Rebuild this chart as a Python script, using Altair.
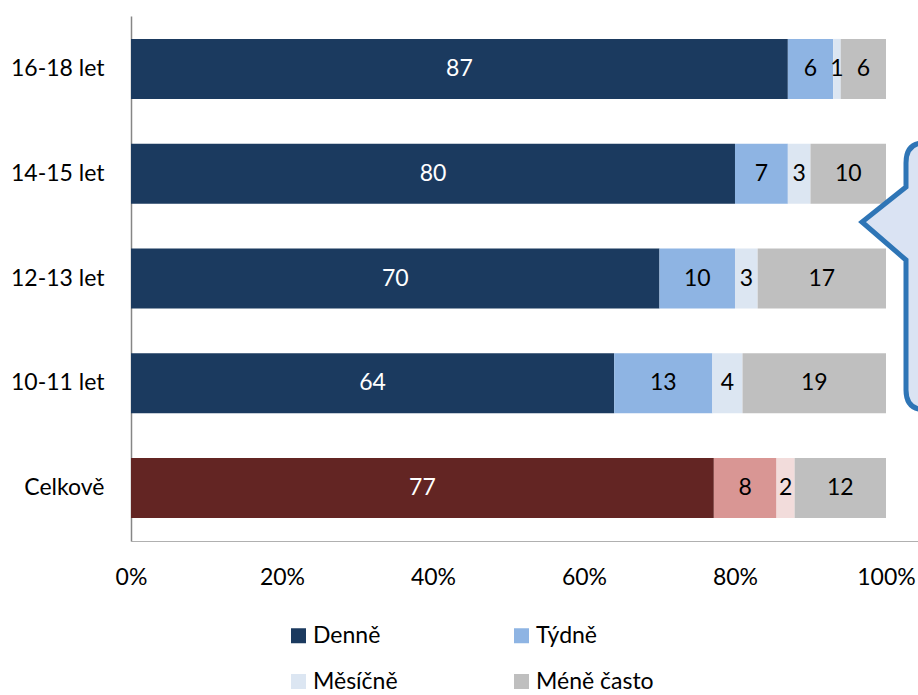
import altair as alt
import pandas as pd

kategorie = ["16-18 let", "14-15 let", "12-13 let", "10-11 let", "Celkově"]
serie = ["Denně", "Týdně", "Měsíčně", "Méně často"]
denne = [87, 80, 70, 64, 77.2]
tydne = [6, 7, 10, 13, 8.3]
mesicne = [1, 3, 3, 4, 2.4]
mene_casto = [6, 10, 17, 19, 12.1]

barvy_vek = ["#1b3a5f", "#8eb4e3", "#dce6f2", "#bfbfbf"]
barvy_celkem = ["#632523", "#d99694", "#f2dcdb", "#bfbfbf"]
tick_values = [0, 0.2, 0.4, 0.6, 0.8, 1.0]

rows = []
for i, k in enumerate(kategorie):
    for j, (s, vals) in enumerate(zip(serie, [denne, tydne, mesicne, mene_casto])):
        key = s if k != "Celkově" else "Celkově – " + s
        rows.append({
            "kat": k, "serie": s, "poradi": j, "hodnota": vals[i],
            "barva": key, "txt": "white" if j == 0 else "black",
        })
df = pd.DataFrame(rows)

domain = serie + ["Celkově – " + s for s in serie]
rng = barvy_vek + barvy_celkem

FONT = "Lato"
FS = 23

base = alt.Chart(df).transform_stack(
    stack="hodnota", groupby=["kat"], sort=[alt.SortField("poradi")],
    as_=["x0", "x1"], offset="normalize"
).transform_calculate(mid="(datum.x0 + datum.x1) / 2")

yenc = alt.Y("kat:N", sort=kategorie, title=None,
             scale=alt.Scale(paddingInner=0.4286, paddingOuter=0.219),
             axis=alt.Axis(domainColor="#868686", domainWidth=1.5, ticks=False,
                           labelFontSize=FS, labelColor="#000000", labelFont=FONT,
                           labelPadding=27))

xscale = alt.Scale(domain=[0, 1.0424], nice=False, zero=False)

bars = base.mark_bar(size=60).encode(
    x=alt.X("x0:Q", scale=xscale, title=None,
            axis=alt.Axis(values=tick_values, format=".0%", grid=False, domain=True,
                          domainColor="#b0b0b0", domainWidth=1,
                          ticks=False, labelFontSize=FS, labelColor="#000000",
                          labelFont=FONT, labelPadding=25, labelFlush=False)),
    x2="x1:Q",
    y=yenc,
    color=alt.Color("barva:N", scale=alt.Scale(domain=domain, range=rng),
                    legend=alt.Legend(values=serie, title=None, orient="none",
                                      legendX=156, legendY=608, columns=2,
                                      symbolType="square", symbolSize=225,
                                      symbolStrokeWidth=0, labelFontSize=FS,
                                      labelFont=FONT, labelColor="#000000",
                                      labelOffset=3, columnPadding=112,
                                      rowPadding=22, direction="horizontal")),
)

labels = base.mark_text(fontSize=FS, font=FONT).encode(
    x=alt.X("mid:Q", scale=xscale),
    y=alt.Y("kat:N", sort=kategorie),
    text=alt.Text("hodnota:Q", format=".0f"),
    color=alt.Color("txt:N", scale=None),
)

bubble_path = ("M 924 143 L 990 143 L 990 410 L 926 410 Q 906 410 906 390 "
               "L 906 260 L 862 222 L 906 187 L 906 163 Q 906 143 924 143 Z")
bubble = alt.Chart(pd.DataFrame({"a": [0]})).mark_point(
    shape=bubble_path, filled=True, fill="#dae3f3", stroke="#2e75b6",
    strokeWidth=5, opacity=1, fillOpacity=1, strokeOpacity=1
).encode(x=alt.value(-131), y=alt.value(-16), size=alt.value(4))

chart = alt.layer(bars, labels, bubble).properties(
    width=787, height=525,
    autosize=alt.AutoSizeParams(type="none"),
    padding={"left": 131, "top": 16, "right": 0, "bottom": 154},
).configure(font=FONT).configure_view(stroke=None)

chart.save("out.html", embed_options={"renderer": "svg", "actions": False})
